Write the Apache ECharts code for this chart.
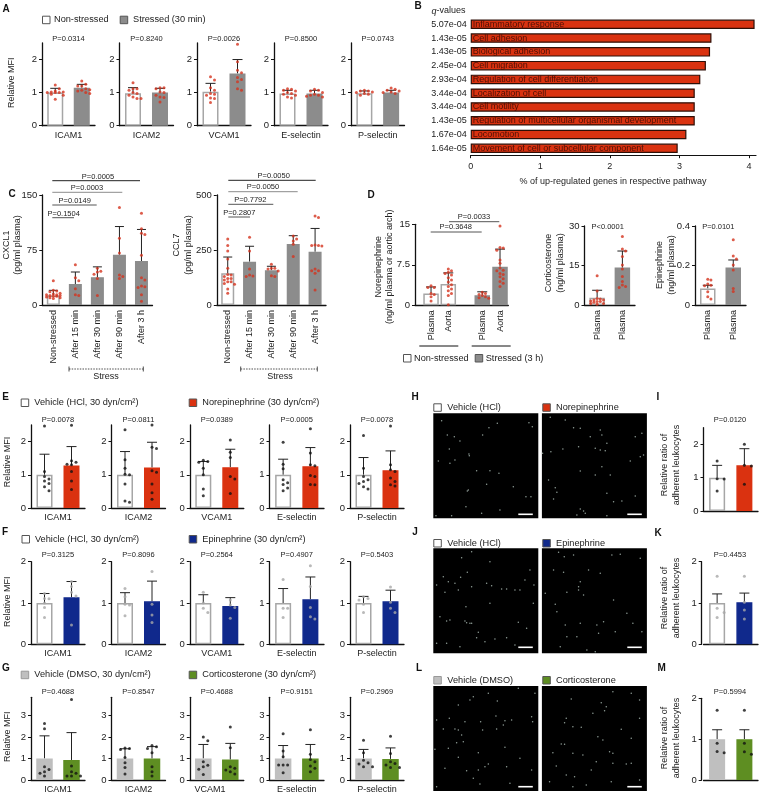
<!DOCTYPE html>
<html><head><meta charset="utf-8">
<style>html,body{margin:0;padding:0;background:#fff}#c{width:760px;height:797px}</style>
<script src="https://cdn.jsdelivr.net/npm/echarts@6/dist/echarts.min.js"></script>
</head><body><div id="c"></div>
<script>
// ---------- DATA ----------
const molecules = ['ICAM1','ICAM2','VCAM1','E-selectin','P-selectin'];
const aP = ['P=0.0314','P=0.8240','P=0.0026','P=0.8500','P=0.0743'];
const aMeans = [[1,1.15],[.98,1],[1.03,1.58],[.97,.97],[.98,1]];
const aErrTops = [[1.13,1.25],[1.15,1.13],[1.28,2],[1.07,1.07],[1.05,1.07]];
const aDots = [
 [[1.23,1.12,1.05,1.02,1.02,1,1,1,.95,.92,.8],[1.35,1.25,1.2,1.2,1.12,1.09,1.07,1.05,1,.97]],
 [[1.3,1.12,1.12,1.07,1,.97,.92,.87,.82,.82],[1.15,1.15,1.12,1.02,1,.92,.87,.85,.72]],
 [[1.48,1.38,1.15,1.07,.97,.95,.92,.84,.82,.7],[2.46,1.93,1.68,1.6,1.46,1.4,1.33,1.12,1.07]],
 [[1.12,1.1,1.07,1.05,1,.97,.95,.92,.87,.84],[1.1,1.07,1.05,1,.95,.92,.92,.89,.87]],
 [[1.07,1.05,1.05,1.02,1,.97,.95,.92],[1.14,1.1,1.07,1.05,1.02,1,.97]]];
const eP = ['P=0.0078','P=0.0811','P=0.0389','P=0.0005','P=0.0078'];
const eMeans = [[1,1.28],[1,1.22],[1,1.23],[1,1.26],[1,1.14]];
const eErrTops = [[1.62,1.85],[1.7,1.98],[1.4,1.77],[1.47,1.82],[1.52,1.72]];
const eDots = [
 [[2.47,1.1,.95,.87,.81,.74,.64,.52],[2.49,1.42,1.38,1.32,1.3,1.1,.81,.56]],
 [[2.36,1.45,1.2,1.02,1,.72,.21,.17],[2.5,1.83,1.79,1.12,1.08,.72,.46,.26]],
 [[1.44,1.4,1.38,1.2,1,.57,.37],[2.05,1.68,1.52,.95,.87,.44]],
 [[1.98,1.32,1.18,.85,.76,.71,.6,.52],[2.39,1.66,1.3,1.27,.98,.95,.71,.7]],
 [[2.18,1.2,.95,.85,.8,.74,.64,.57],[2.47,1.3,1.15,1.1,.9,.8,.7,.66]]];
const fP = ['P=0.3125','P=0.8096','P=0.2564','P=0.4907','P=0.5403'];
const fMeans = [[1,1.14],[1,1.04],[1,.93],[1,1.09],[1,1.04]];
const fErrTops = [[1.23,1.52],[1.25,1.53],[1.2,1.13],[1.35,1.63],[1.16,1.31]];
const fDots = [
 [[1.23,1.11,1.1,1,.89,.65],[1.52,1.4,1.26,1.17,.47]],
 [[1.35,1.15,.97,.95,.69],[1.76,.97,.71,.53]],
 [[1.26,1,.87,.77],[1.07,.95,.89,.63]],
 [[1.57,.87,.87,.65],[1.9,1.4,.89,.67,.61]],
 [[1.15,1.11,1.07,.97,.77],[1.39,1.02,.87,.77]]];
const gP = ['P=0.4688','P=0.8547','P=0.4688','P=0.9151','P=0.2969'];
const gMeans = [[1,.93],[1,1],[1,.95],[1,1],[1,.98]];
const gErrTops = [[2.05,2.2],[1.45,1.55],[1.65,1.7],[1.6,1.65],[1.42,1.49]];
const gDots = [
 [[2.62,2.38,.62,.49,.38,.31,.18],[3.74,.65,.38,.31,.18,.18,.18]],
 [[1.49,1.46,1.42,1.05,.8,.58,.28],[1.6,1.54,1.46,1.26,.62,.38,.18]],
 [[2,1.82,.85,.69,.62,.5,.26],[2.46,1.5,.62,.54,.46,.38,.28]],
 [[2.15,1.35,1.08,.7,.7,.7,.34],[2.33,1.2,.95,.85,.65,.54,.38]],
 [[1.85,1.26,.92,.8,.74,.62,.62],[2.03,1.23,.85,.77,.7,.58,.58]]];

const pathways = ['Inflammatory response','Cell adhesion','Biological adhesion','Cell migration','Regulation of cell differentiation','Localization of cell','Cell motility','Regulation of multicellular organismal development','Locomotion','Movement of cell or subcellular component'];
const qValues = ['5.07e-04','1.43e-05','1.43e-05','2.45e-04','2.93e-04','3.44e-04','3.44e-04','1.43e-05','1.67e-04','1.64e-05'];
const pathwayPct = [4.08,3.46,3.44,3.38,3.30,3.22,3.22,3.22,3.10,2.975];

const timeCats = ['Non-stressed','After 15 min','After 30 min','After 90 min','After 3 h'];
const cxcl1Means = [13,28.6,38,68.6,60];
const cxcl1ErrTops = [20,45,52,107,103];
const cxcl1Dots = [[33,20,19,18,16,15,14,14,13,13,12,12,11,10,10,9],[55,37,33,22,14,13],[50,46,45,42,36,13],[133,91,71,41,39,36],[125,104,98,96,68,37,34,26,25,24,14,5]];
const ccl7Means = [144,197,158,277,242];
const ccl7ErrTops = [218,267,176,315,348];
const ccl7Dots = [[300,270,245,209,167,139,136,129,121,121,114,106,106,98,94,73,53],[308,245,164,136,132,129],[185,167,167,164,155,133,130],[314,300,291,276,220],[405,398,273,270,270,268,164,156,156,144,68]];

const neCats = ['Plasma','Aorta','Plasma','Aorta'];
const neMeans = [2.2,3.95,1.85,7.15];
const neErrTops = [3.4,6,2.5,10.4];
const neDots = [[3.6,3.3,3.3,2.2,2,1.6,.8],[6.7,6.4,6.1,5.9,5.6,5.1,4.7,4.3,3.8,3.5,3,2.7,2.2,1.8,.1],[2.4,2.2,2,1.8,1.6,1.4,1.3],[14.7,10.7,10.6,10.2,8.4,7.8,6.9,6.5,6.4,5.9,5.7,5.3,4.9,4.4,4.1,3.5]];
const plasmaCats = ['Plasma','Plasma'];
const cortMeans = [2.8,14.2];
const cortErrTops = [5.6,20.5];
const cortDots = [[11.1,5.3,2.5,2.3,1.9,1.9,1.5,1.3,1.3,1,.6,.6,.3],[26,21.3,20.5,18.4,15.2,13.7,10.8,8.9,7.6,7,6.6]];
const epiMeans = [.084,.19];
const epiErrTops = [.1,.228];
const epiDots = [[.13,.127,.106,.1,.098,.067,.042,.03],[.33,.248,.233,.203,.177,.084,.068]];

const iMeans = [1,1.37]; const iErrTops = [1.37,1.87]; const iDots = [[1.5,.97,.96,.6],[2,1.37,1.35,.8]];
const kMeans = [1,1.02]; const kErrTops = [1.22,1.24]; const kDots = [[1.65,.87,.77,.65],[1.65,1.02,.83,.61]];
const mMeans = [1,1];    const mErrTops = [1.23,1.23]; const mDots = [[1.71,.9,.7,.67],[1.71,.9,.69,.63]];

// cell positions (field units)
const hVehicleCells = [[25,22],[42,65],[63,70],[80,83],[148,65],[167,43],[192,30],[287,28],[297,40],[48,107],[107,122],[108,127],[15,143],[50,150],[65,140],[130,172],[170,172],[197,180],[160,213],[102,233],[105,230],[278,250],[293,250],[98,280],[55,307],[8,307],[145,300],[200,290],[240,220]];
const hNorepiCells = [[25,12],[70,20],[95,43],[115,45],[175,50],[180,65],[145,70],[300,60],[280,70],[110,100],[63,107],[27,115],[2,120],[160,105],[175,110],[190,112],[195,90],[305,125],[265,143],[295,130],[180,160],[115,173],[160,185],[205,185],[20,200],[40,223],[45,237],[195,240],[280,248],[215,265],[240,263],[35,257],[115,287],[125,293],[130,300],[195,307],[105,305]];
const jVehicleCells = [[85,28],[115,10],[170,40],[102,72],[30,85],[45,100],[82,87],[10,110],[75,125],[65,105],[115,115],[160,105],[175,112],[205,122],[220,122],[245,125],[275,95],[290,65],[260,125],[302,110],[35,132],[98,175],[170,165],[20,205],[40,218],[50,215],[95,218],[100,223],[110,225],[115,225],[255,222],[300,165],[10,285],[40,285],[135,252],[155,280],[185,272],[220,268],[245,290],[130,268],[280,240],[80,295]];
const jEpiCells = [[50,12],[67,25],[95,20],[235,18],[210,20],[115,100],[110,115],[65,72],[35,65],[140,65],[175,75],[10,135],[75,132],[110,125],[125,140],[40,168],[45,190],[215,155],[255,195],[273,225],[165,230],[70,230],[115,225],[170,255],[220,250],[75,265],[105,265],[55,295],[135,305],[160,310],[300,250],[295,30],[185,220]];
const lVehicleCells = [[110,42],[165,22],[192,45],[255,7],[305,22],[120,32],[75,57],[48,97],[10,102],[95,107],[142,107],[188,90],[215,104],[235,102],[295,92],[298,107],[30,129],[75,132],[65,129],[148,132],[190,129],[210,117],[85,147],[70,170],[90,167],[5,190],[45,187],[135,200],[215,184],[75,214],[165,234],[155,242],[35,247],[100,254],[135,252],[220,242],[260,217],[295,252],[10,302],[140,294],[120,277],[230,292]];
const lCortCells = [[88,39],[213,17],[268,22],[293,42],[178,50],[193,62],[188,74],[153,82],[73,97],[68,110],[93,122],[118,124],[238,130],[293,97],[168,152],[183,162],[268,157],[58,174],[68,175],[33,200],[93,202],[123,207],[203,197],[213,202],[163,227],[213,232],[253,234],[268,232],[43,240],[98,272],[93,302],[133,297],[148,252],[73,267],[208,287],[293,282],[23,287]];

// ---------- STYLE / LAYOUT ----------
const FONT = '"Liberation Sans", Arial, sans-serif';
const INK = '#222';
const C = {white:'#fff', gray:'#8c8c8c', red:'#DA3210', blue:'#10298C', light:'#BFBFBF', green:'#5E8E22'};
const series = [], grids = [], xAxes = [], yAxes = [], gfx = [];

function swarm(vals, pxY, pxX, spacing, maxOff){
  const placed = [];
  [...vals].sort((a,b)=>b-a).forEach(v=>{
    const y = v*pxY;
    let best=0, bestD=-1;
    for(let k=0;;k++){
      const off = k===0?0:(k%2? (k+1)/2 : -k/2)*spacing;
      if(Math.abs(off)>maxOff) break;
      const d = placed.reduce((m,p)=>Math.min(m,Math.hypot(p.dx-off,p.y-y)),1e9);
      if(d>=spacing*0.95){best=off;bestD=d;break;}
      if(d>bestD){best=off;bestD=d;}
    }
    placed.push({dx:best,y,v});
  });
  return placed.map(p=>[p.dx/pxX,p.v]);
}

function panel(o){
  const idx = grids.length, w=o.right-o.left, h=o.bottom-o.top;
  grids.push({left:o.left,top:o.top,width:w,height:h});
  const xMax=o.xMax, pxX=w/xMax, pxY=h/o.yMax;
  const labelAt=o.labelAt, labelText=o.labelText;
  xAxes.push({gridIndex:idx,type:'value',min:0,max:xMax,splitLine:{show:false},
    axisLine:{show:true,onZero:false,lineStyle:{color:'#111',width:1.3}},axisTick:{show:false},
    axisLabel:{customValues:labelAt,formatter:v=>labelText[labelAt.findIndex(a=>Math.abs(a-v)<1e-6)]||'',
      fontFamily:FONT,fontSize:9,color:INK,margin:5,rotate:o.rotate||0,hideOverlap:false}});
  yAxes.push({gridIndex:idx,type:'value',min:0,max:o.yMax,offset:o.yOffset||0,splitLine:{show:false},
    axisLine:{show:true,onZero:false,lineStyle:{color:'#111',width:1.3}},
    axisTick:{show:true,length:3,customValues:o.yTicks,lineStyle:{color:'#111',width:1}},
    axisLabel:{customValues:o.yTicks,formatter:v=>String(v),fontFamily:FONT,fontSize:9.5,color:INK,margin:5}});
  const fills=o.fills;
  series.push({type:'bar',name:o.name+' mean',xAxisIndex:idx,yAxisIndex:idx,barWidth:o.barW-(1.5),silent:true,
    data:o.means.map((m,i)=>({value:[o.xs[i],m],itemStyle:{color:fills[i],
      borderColor:fills[i]===C.white?'#a6a6a6':fills[i],borderWidth:1.5}}))});
  series.push({type:'custom',name:o.name+' error',xAxisIndex:idx,yAxisIndex:idx,silent:true,clip:false,
    data:o.means.map((m,i)=>[o.xs[i],m,o.errs[i]]),
    encode:{x:0,y:[1,2]},
    renderItem:(p,api)=>{
      const a=api.coord([api.value(0),api.value(1)]), b=api.coord([api.value(0),api.value(2)]);
      const st={stroke:INK,lineWidth:1}, cap=o.capW||5;
      return {type:'group',children:[
        {type:'line',shape:{x1:a[0],y1:a[1],x2:b[0],y2:b[1]},style:st},
        {type:'line',shape:{x1:b[0]-cap,y1:b[1],x2:b[0]+cap,y2:b[1]},style:st}]};
    }});
  const pts=[];
  o.dots.forEach((vals,i)=>swarm(vals,pxY,pxX,o.spacing||3.6,o.barW/2).forEach(p=>pts.push([o.xs[i]+p[0],p[1]])));
  series.push({type:'scatter',name:o.name+' points',xAxisIndex:idx,yAxisIndex:idx,silent:true,clip:false,z:5,
    symbolSize:o.dotSize||3,itemStyle:{color:o.dotColor},data:pts});
}

function label(t,x,y,opt={}){
  gfx.push({type:'text',x,y,rotation:opt.rot?Math.PI/2:0,silent:true,style:{text:t,fill:opt.color||INK,
    font:`${opt.italic?'italic ':''}${opt.bold?'bold ':''}${opt.size||9}px ${FONT}`,
    align:opt.align||'center',verticalAlign:'middle',lineHeight:opt.lh||11.5}});
}
function seg(x1,y1,x2,y2,color,width,dash){
  gfx.push({type:'line',silent:true,shape:{x1,y1,x2,y2},style:{stroke:color||'#222',lineWidth:width||1,lineDash:dash||null}});
}
function box(x,y,w,h,fill,stroke){
  gfx.push({type:'rect',silent:true,shape:{x,y,width:w,height:h},style:{fill,stroke:stroke||'#555',lineWidth:1}});
}
function legendItem(bx,by,fill,text,tx,stroke){
  box(bx+.5,by+.5,7.5,7.5,fill,stroke); label(text,tx,by+4,{align:'left',size:9.2});
}

// rows of five small panels
function row(spec){
  spec.lefts.forEach((l,i)=>{
    const r=spec.rights[i];
    panel({name:spec.tag+' '+molecules[i],left:l,right:r,top:spec.top,bottom:spec.bottom,yMax:spec.yMax,yTicks:spec.yTicks,
      xMax:2,xs:[.5,1.5],labelAt:[spec.labelAt?spec.labelAt[i]:1],labelText:[molecules[i]],
      means:spec.means[i],errs:spec.errs[i],dots:spec.dots[i],fills:spec.fills,barW:spec.barW,dotColor:spec.dotColor,capW:spec.capW,spacing:spec.spacing});
    label(spec.p[i],(l+r)/2,spec.pY,{size:7.5});
  });
  label('Relative MFI',spec.nameX,spec.nameY,{rot:1});
}
const RED='#D4331E', BLK='#111', PALE='#a8a8a8';
row({tag:'A',lefts:[42,119.5,197,274,351],rights:[95,173.5,251,328,404.5],top:43,bottom:125.7,yMax:2.5,yTicks:[0,1,2],means:aMeans,errs:aErrTops,dots:aDots,p:aP,pY:38.7,fills:[C.white,C.gray],barW:17.5,dotColor:RED,nameX:12,nameY:82.7,spacing:4});
const lowerL=[31,111.5,189.8,269.5,350], lowerR=[85,165.5,243.8,324,404];
row({tag:'E',lefts:lowerL,rights:lowerR,top:425,bottom:508,yMax:2.5,yTicks:[0,1,2],means:eMeans,errs:eErrTops,dots:eDots,p:eP,pY:420,fills:[C.white,C.red],barW:17.5,dotColor:BLK,nameX:7.3,nameY:462,spacing:4.5});
row({tag:'F',lefts:lowerL,rights:lowerR,top:561.7,bottom:644.3,yMax:2,yTicks:[0,1,2],means:fMeans,errs:fErrTops,dots:fDots,p:fP,pY:555,fills:[C.white,C.blue],barW:17.5,dotColor:PALE,nameX:7.3,nameY:601.7,spacing:4.5});
row({tag:'G',lefts:lowerL,rights:lowerR,top:697.3,bottom:780,yMax:3.84,yTicks:[0,1,2,3],means:gMeans,errs:gErrTops,dots:gDots,p:gP,pY:691.7,fills:[C.light,C.green],barW:18,dotColor:BLK,labelAt:[1,1,.75,1,1],nameX:7.3,nameY:736.7,spacing:4.5});

// Panel B
const bIdx=grids.length;
grids.push({left:470.7,right:4,top:17.4,height:137.8});
xAxes.push({gridIndex:bIdx,type:'value',min:0,max:4.1,splitLine:{show:false},
  axisLine:{show:true,onZero:false,lineStyle:{color:'#111',width:1.2}},
  axisTick:{show:true,length:3,customValues:[0,1,2,3,4],lineStyle:{color:'#111'}},
  axisLabel:{customValues:[0,1,2,3,4],fontFamily:FONT,fontSize:9,color:INK,margin:7,formatter:v=>String(v)}});
yAxes.push({gridIndex:bIdx,type:'category',inverse:true,data:qValues,axisLine:{show:false},axisTick:{show:false},
  axisLabel:{fontFamily:FONT,fontSize:9,color:INK,margin:4,interval:0}});
series.push({type:'bar',name:'% up-regulated',xAxisIndex:bIdx,yAxisIndex:bIdx,barWidth:9.5,silent:true,
  itemStyle:{color:C.red,borderColor:'#2e0f07',borderWidth:1.2},
  label:{show:true,position:'insideLeft',distance:2,fontFamily:FONT,fontSize:9,color:'#4c1005',formatter:p=>pathways[p.dataIndex]},
  data:pathwayPct});
label('q',431.5,11,{italic:1,align:'left'}); label('-values',436.5,11,{align:'left'});
label('% of up-regulated genes in respective pathway',613,182,{size:9});

// Panel C
panel({name:'CXCL1',left:42.3,right:152.5,top:195,bottom:305,yMax:150,yTicks:[0,75,150],xMax:5,xs:[.5,1.5,2.5,3.5,4.5],labelAt:[.5,1.5,2.5,3.5,4.5],labelText:timeCats,rotate:90,
  means:cxcl1Means,errs:cxcl1ErrTops,dots:cxcl1Dots,fills:[C.white,C.gray,C.gray,C.gray,C.gray],barW:14.5,dotColor:RED,capW:4.5,spacing:3.4});
panel({name:'CCL7',left:216.8,right:326,top:195,bottom:305,yMax:500,yTicks:[0,250,500],xMax:5,xs:[.5,1.5,2.5,3.5,4.5],labelAt:[.5,1.5,2.5,3.5,4.5],labelText:timeCats,rotate:90,
  means:ccl7Means,errs:ccl7ErrTops,dots:ccl7Dots,fills:[C.white,C.gray,C.gray,C.gray,C.gray],barW:14.5,dotColor:RED,capW:4.5,spacing:3.4});
label('CXCL1\n(pg/ml plasma)',12,245,{rot:1});
label('CCL7\n(pg/ml plasma)',182.5,245,{rot:1});
[[52.3,140,180.7,'P=0.0005',98,177,'#222'],[52.3,122.3,192.3,'P=0.0003',87,188,'#8c8c8c'],[52.3,96.7,205,'P=0.0149',74.7,201,'#555'],[52.3,74,217.7,'P=0.1504',63.7,213.7,'#555'],
 [228.3,315.7,180.3,'P=0.0050',273.7,176,'#222'],[228.3,297.7,191.7,'P=0.0050',263,187.3,'#8c8c8c'],[228.3,273.3,204.3,'P=0.7792',250.3,200.3,'#555'],[228.3,250,217,'P=0.2807',239.3,212.7,'#555']
].forEach(a=>{seg(a[0],a[2],a[1],a[2],a[6],1);label(a[3],a[4],a[5],{size:7.5});});
[[69,143.3,106],[240.7,317.3,280]].forEach(b=>{
  seg(b[0],369,b[1],369,'#222',.8,[1.5,1.2]);seg(b[0],366.5,b[0],371.5,'#222',.8);seg(b[1],366.5,b[1],371.5,'#222',.8);label('Stress',b[2],377,{});});

// Panel D
const neXs=[.93,1.93,3.9,4.93];
panel({name:'Norepinephrine',left:415,right:508.3,top:224.3,bottom:305.3,yMax:15,yTicks:[0,7.5,15],xMax:5.41,xs:neXs,labelAt:neXs,labelText:neCats,rotate:90,
  means:neMeans,errs:neErrTops,dots:neDots,fills:[C.white,C.white,C.gray,C.gray],barW:17,dotColor:RED,spacing:3.2,capW:5});
panel({name:'Corticosterone',left:584.5,right:635,top:226,bottom:305,yMax:30,yTicks:[0,15,30],xMax:2,xs:[.5,1.5],labelAt:[.5,1.5],labelText:plasmaCats,rotate:90,
  means:cortMeans,errs:cortErrTops,dots:cortDots,fills:[C.white,C.gray],barW:17,dotColor:RED,spacing:3.2,capW:5});
panel({name:'Epinephrine',left:695,right:746,top:226,bottom:305,yMax:.4,yTicks:[0,.2,.4],xMax:2,xs:[.5,1.5],labelAt:[.5,1.5],labelText:plasmaCats,rotate:90,
  means:epiMeans,errs:epiErrTops,dots:epiDots,fills:[C.white,C.gray],barW:17,dotColor:RED,spacing:3.2,capW:5});
label('Norepinephrine\n(ng/ml plasma or aortic arch)',384,266.7,{rot:1});
label('Corticosterone\n(ng/ml plasma)',554.5,263,{rot:1});
label('Epinephrine\n(ng/ml plasma)',665.5,265,{rot:1});
seg(430.7,232,481.7,232,'#555',1);label('P=0.3648',455.7,227.3,{size:7.5});
seg(449,221.7,499.3,221.7,'#555',1);label('P=0.0033',474,217.3,{size:7.5});
label('P<0.0001',607.7,226.7,{size:7.5});label('P=0.0101',718.3,226.7,{size:7.5});
seg(419.3,346,458.3,346,'#111',1);seg(471.7,346,510.7,346,'#111',1);

// Panels I K M
[['I',427.7,511,2.5,iMeans,iErrTops,iDots,C.white,C.red,BLK,'P=0.0120',420,0],
 ['K',561.7,644.3,2,kMeans,kErrTops,kDots,C.white,C.blue,PALE,'P=0.4453',555,1.8],
 ['M',698.3,780,2,mMeans,mErrTops,mDots,C.light,C.green,BLK,'P=0.5994',691.7,1.8]].forEach(s=>{
  panel({name:s[0],left:703.5,right:758,top:s[1],bottom:s[2],yMax:s[3],yTicks:[0,1,2].filter(v=>v<=s[3]),xMax:2,xs:[.5,1.5],labelAt:[],labelText:[],yOffset:s[12],
    means:s[4],errs:s[5],dots:s[6],fills:[s[7],s[8]],barW:17.5,dotColor:s[9],spacing:7});
  label(s[10],730,s[11],{size:7.5});
});
label('Relative ratio of\nadherent leukocytes',670.5,465,{rot:1});
label('Relative ratio of\nadherent leukocytes',670.5,598,{rot:1});
label('Relative ratio of\nadherent leukocytes',670.5,738,{rot:1});

// Micrographs
function micro(cells,left,top,barX,barY){
  const idx=grids.length;
  grids.push({left,top,width:105,height:105,show:true,backgroundColor:'#000',borderWidth:0});
  const hidden={show:false,type:'value',min:0,max:315};
  xAxes.push({...hidden,gridIndex:idx}); yAxes.push({...hidden,gridIndex:idx,inverse:true});
  series.push({type:'scatter',name:'cells',xAxisIndex:idx,yAxisIndex:idx,silent:true,symbolSize:1.5,itemStyle:{color:'#b4c6be'},data:cells});
  gfx.push({type:'rect',silent:true,z:20,shape:{x:barX,y:barY-.8,width:14.5,height:1.6},style:{fill:'#fff'}});
}
const mL=433.3, mR=541.9;
micro(hVehicleCells,mL,413.3,518.3,514.3); micro(hNorepiCells,mR,413.3,627.3,514.3);
micro(jVehicleCells,mL,548.3,518.3,647.3); micro(jEpiCells,mR,548.3,627.3,647.3);
micro(lVehicleCells,mL,686,518.3,786.7);   micro(lCortCells,mR,686,627.3,786.7);

// Legends
legendItem(42,15.7,C.white,'Non-stressed',54);
legendItem(119.7,15.7,C.gray,'Stressed (30 min)',133);
legendItem(403,354,C.white,'Non-stressed',414);
legendItem(474.7,354,C.gray,'Stressed (3 h)',485.7);
legendItem(20.7,398.5,C.white,'Vehicle (HCl, 30 dyn/cm²)',34.3);
legendItem(188.7,398.5,C.red,'Norepinephrine (30 dyn/cm²)',202.3);
legendItem(21.5,535,C.white,'Vehicle (HCl, 30 dyn/cm²)',35);
legendItem(188.7,535,C.blue,'Epinephrine (30 dyn/cm²)',202.3);
legendItem(20.7,670.7,C.light,'Vehicle (DMSO, 30 dyn/cm²)',34.3,'#999');
legendItem(188.7,670.7,C.green,'Corticosterone (30 dyn/cm²)',202.3);
legendItem(433.3,403.3,C.white,'Vehicle (HCl)',447.3);
legendItem(542.3,403.3,C.red,'Norepinephrine',556);
legendItem(433.3,539,C.white,'Vehicle (HCl)',447.3);
legendItem(542.3,539,C.blue,'Epinephrine',556);
legendItem(433.3,676,C.light,'Vehicle (DMSO)',447.3,'#999');
legendItem(542.3,676,C.green,'Corticosterone',556);

// Panel letters
[['A',6,9],['B',418,6],['C',12,194],['D',371,195],['E',5.5,397.7],['F',5,532],['G',6,668],['H',415,397],['I',658,397.7],['J',415,532],['K',658,533],['L',419,668],['M',661.7,668]]
 .forEach(l=>label(l[0],l[1],l[2],{bold:1,size:10,color:'#111'}));

const chart=echarts.init(document.getElementById('c'),null,{renderer:'canvas'});
chart.setOption({animation:false,backgroundColor:'#fff',grid:grids,xAxis:xAxes,yAxis:yAxes,series,graphic:{elements:gfx}});
</script></body></html>
